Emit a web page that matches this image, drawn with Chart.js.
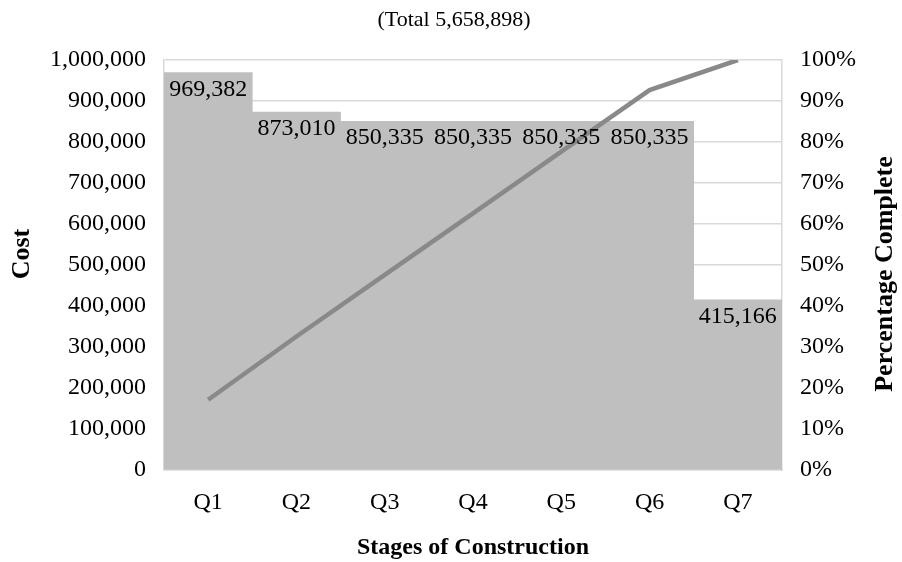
<!DOCTYPE html>
<html>
<head>
<meta charset="utf-8">
<script src="https://cdn.jsdelivr.net/npm/chart.js@4.4.1/dist/chart.umd.min.js"></script>
<style>
  html, body { margin: 0; padding: 0; background: #ffffff; }
  #wrap { width: 902px; height: 562px; position: relative; }
</style>
</head>
<body>
<div id="wrap"><canvas id="c" width="902" height="562"></canvas></div>
<script>
// Construction cost per stage and cumulative completion
const stages = ['Q1', 'Q2', 'Q3', 'Q4', 'Q5', 'Q6', 'Q7'];
const stageCost = [969382, 873010, 850335, 850335, 850335, 850335, 415166];
const totalLabel = '(Total 5,658,898)';
const costTitle = 'Cost';
const pctTitle = 'Percentage Complete';
const stageTitle = 'Stages of Construction';

// cumulative share of total cost, in percent
const totalCost = stageCost.reduce((a, b) => a + b, 0);
const cumulativePct = [];
let running = 0;
for (const c of stageCost) { running += c; cumulativePct.push(running / totalCost * 100); }

const SERIF = '"Liberation Serif", "Times New Roman", serif';
const fmt = n => n.toLocaleString('en-US');

// value labels just inside the top of each bar, plus chart/axis titles
const decorations = {
  id: 'decorations',
  afterDatasetsDraw(chart) {
    const ctx = chart.ctx;
    const meta = chart.getDatasetMeta(1);
    ctx.save();
    ctx.fillStyle = '#000000';
    ctx.font = '24px ' + SERIF;
    ctx.textAlign = 'center';
    ctx.textBaseline = 'alphabetic';
    meta.data.forEach((bar, i) => {
      ctx.fillText(fmt(stageCost[i]), bar.x, bar.y + 23);
    });
    ctx.restore();
  },
  afterDraw(chart) {
    const ctx = chart.ctx;
    const area = chart.chartArea;
    ctx.save();
    ctx.fillStyle = '#000000';
    ctx.textAlign = 'center';
    ctx.textBaseline = 'middle';
    ctx.font = '22px ' + SERIF;
    ctx.fillText(totalLabel, 454, 20);

    ctx.font = 'bold 24px ' + SERIF;
    ctx.fillText(stageTitle, (area.left + area.right) / 2, 548);

    ctx.font = 'bold 26px ' + SERIF;
    ctx.translate(22, (area.top + area.bottom) / 2 - 11);
    ctx.rotate(-Math.PI / 2);
    ctx.fillText(costTitle, 0, 0);
    ctx.restore();

    ctx.save();
    ctx.fillStyle = '#000000';
    ctx.textAlign = 'center';
    ctx.textBaseline = 'middle';
    ctx.font = 'bold 26px ' + SERIF;
    ctx.translate(885, 274);
    ctx.rotate(-Math.PI / 2);
    ctx.fillText(pctTitle, 0, 0);
    ctx.restore();
  }
};

new Chart(document.getElementById('c'), {
  data: {
    labels: stages,
    datasets: [
      {
        type: 'line',
        data: cumulativePct,
        yAxisID: 'y1',
        borderColor: '#898989',
        borderWidth: 4.5,
        pointRadius: 0,
        tension: 0,
        order: 0
      },
      {
        type: 'bar',
        data: stageCost,
        yAxisID: 'y',
        backgroundColor: '#bfbfbf',
        borderWidth: 0,
        categoryPercentage: 1.0,
        barPercentage: 1.0,
        order: 1
      }
    ]
  },
  options: {
    responsive: false,
    animation: false,
    events: [],
    layout: { padding: { top: 60, left: 0, right: 0, bottom: 0 } },
    plugins: { legend: { display: false }, tooltip: { enabled: false }, title: { display: false } },
    scales: {
      x: {
        grid: { display: false, drawTicks: false },
        border: { display: true, color: '#d9d9d9', width: 1.5 },
        ticks: { color: '#000000', font: { family: SERIF, size: 24 }, padding: 18, maxRotation: 0 },
        afterFit(s) { s.height = 92; }
      },
      y: {
        position: 'left',
        min: 0, max: 1000000,
        grid: { color: '#d9d9d9', lineWidth: 1.5, drawTicks: false },
        border: { display: true, color: '#d9d9d9', width: 1.5 },
        ticks: {
          stepSize: 100000, color: '#000000', padding: 18,
          font: { family: SERIF, size: 24 },
          callback: v => fmt(v)
        },
        afterFit(s) { s.width = 164; }
      },
      y1: {
        position: 'right',
        min: 0, max: 100,
        grid: { display: false, drawTicks: false },
        border: { display: true, color: '#d9d9d9', width: 1.5 },
        ticks: {
          stepSize: 10, color: '#000000', padding: 18,
          font: { family: SERIF, size: 24 },
          callback: v => v + '%'
        },
        afterFit(s) { s.width = 120; }
      }
    }
  },
  plugins: [decorations]
});
</script>
</body>
</html>
